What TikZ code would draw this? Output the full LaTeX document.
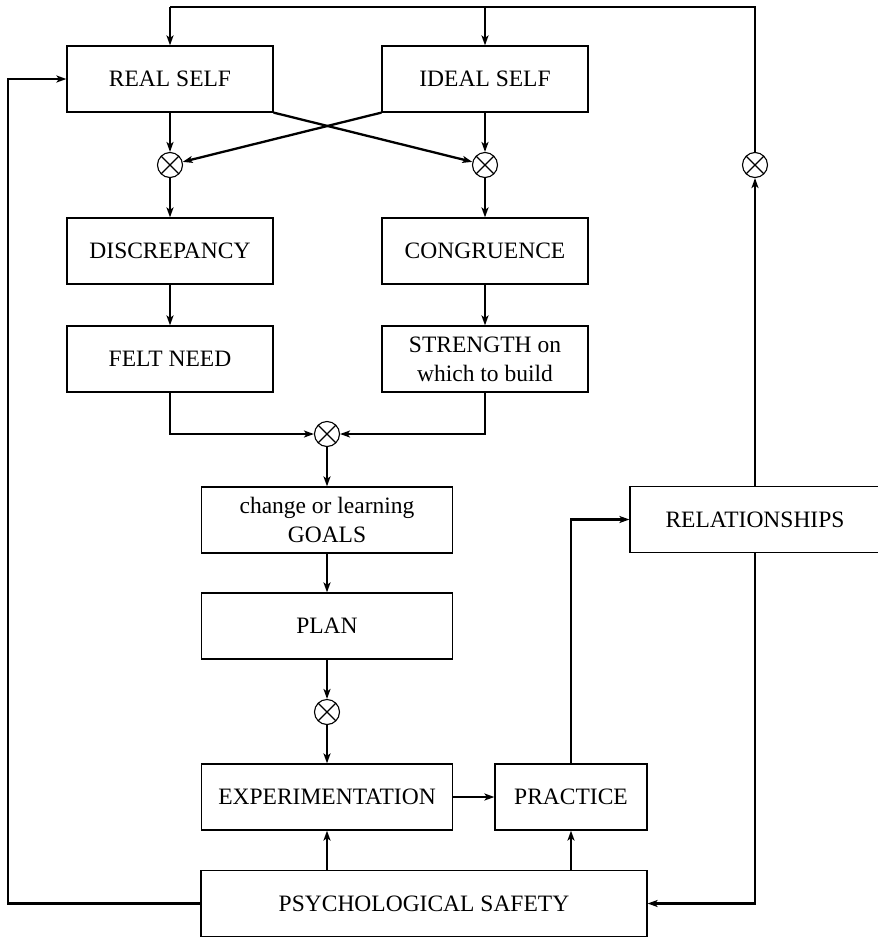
\documentclass[tikz,border=0pt]{standalone}
\usepackage{fontspec}
\setmainfont{Liberation Serif}
\usetikzlibrary{arrows.meta}
\begin{document}
\begin{tikzpicture}[x=1pt,y=-1pt,
 box/.style={draw, line width=1.2pt, minimum height=66pt, inner sep=0pt, align=center, font=\fontsize{23.5}{29}\selectfont},
 otim/.style={draw, circle, line width=1.1pt, minimum size=25pt, inner sep=0pt,
   path picture={\draw[line width=1.1pt] (path picture bounding box.north west)--(path picture bounding box.south east) (path picture bounding box.north east)--(path picture bounding box.south west);}},
 conn/.style={line width=2.3pt},
 arr/.style={conn, -{Stealth[length=10pt,width=7pt,inset=2.5pt]}}]
\useasboundingbox (0,0) rectangle (878,938);
\node[box, minimum width=206pt] (real) at (170,79) {REAL SELF};
\node[box, minimum width=206pt] (ideal) at (485,79) {IDEAL SELF};
\node[otim] (o1) at (170,165) {};
\node[otim] (o2) at (485,165) {};
\node[otim] (o3) at (755,165) {};
\node[box, minimum width=206pt] (disc) at (170,251) {DISCREPANCY};
\node[box, minimum width=206pt] (cong) at (485,251) {CONGRUENCE};
\node[box, minimum width=206pt] (felt) at (170,359) {FELT NEED};
\node[box, minimum width=206pt] (str) at (485,359) {STRENGTH on\\which to build};
\node[otim] (o4) at (327,434) {};
\node[box, minimum width=251pt] (goals) at (327,520) {change or learning\\GOALS};
\node[box, minimum width=251pt] (plan) at (327,626) {PLAN};
\node[otim] (o5) at (327,712) {};
\node[box, minimum width=251pt] (exp) at (327,797) {EXPERIMENTATION};
\node[box, minimum width=152pt] (prac) at (571,797) {PRACTICE};
\node[box, minimum width=446pt] (psy) at (424,903.5) {PSYCHOLOGICAL SAFETY};
\node[box, minimum width=250pt] (rel) at (755,519.5) {RELATIONSHIPS};
\coordinate (tl) at (170,7);
\coordinate (tm) at (485,7);
\coordinate (tr) at (755,7);
% top feedback loop
\draw[conn] (o3.north) -- (tr) -- (tl);
\draw[arr] (tl) -- (real.north);
\draw[arr] (tm) -- (ideal.north);
\draw[arr] (rel.north) -- (o3.south);
% left loop
\draw[arr] (psy.west) -| (8,79) -- (real.west);
% right loop
\draw[arr] (rel.south) |- (psy.east);
% practice to relationships
\draw[arr] (prac.north) |- (rel.west);
% main flow
\draw[arr] (real.south) -- (o1.north);
\draw[arr] (ideal.south) -- (o2.north);
\draw[arr] (real.south east) -- (o2);
\draw[arr] (ideal.south west) -- (o1);
\draw[arr] (o1.south) -- (disc.north);
\draw[arr] (o2.south) -- (cong.north);
\draw[arr] (disc.south) -- (felt.north);
\draw[arr] (cong.south) -- (str.north);
\draw[arr] (felt.south) |- (o4.west);
\draw[arr] (str.south) |- (o4.east);
\draw[arr] (o4.south) -- (goals.north);
\draw[arr] (goals.south) -- (plan.north);
\draw[arr] (plan.south) -- (o5.north);
\draw[arr] (o5.south) -- (exp.north);
\draw[arr] (exp.east) -- (prac.west);
\draw[arr] (psy.north -| exp.south) -- (exp.south);
\draw[arr] (psy.north -| prac.south) -- (prac.south);
\end{tikzpicture}
\end{document}
